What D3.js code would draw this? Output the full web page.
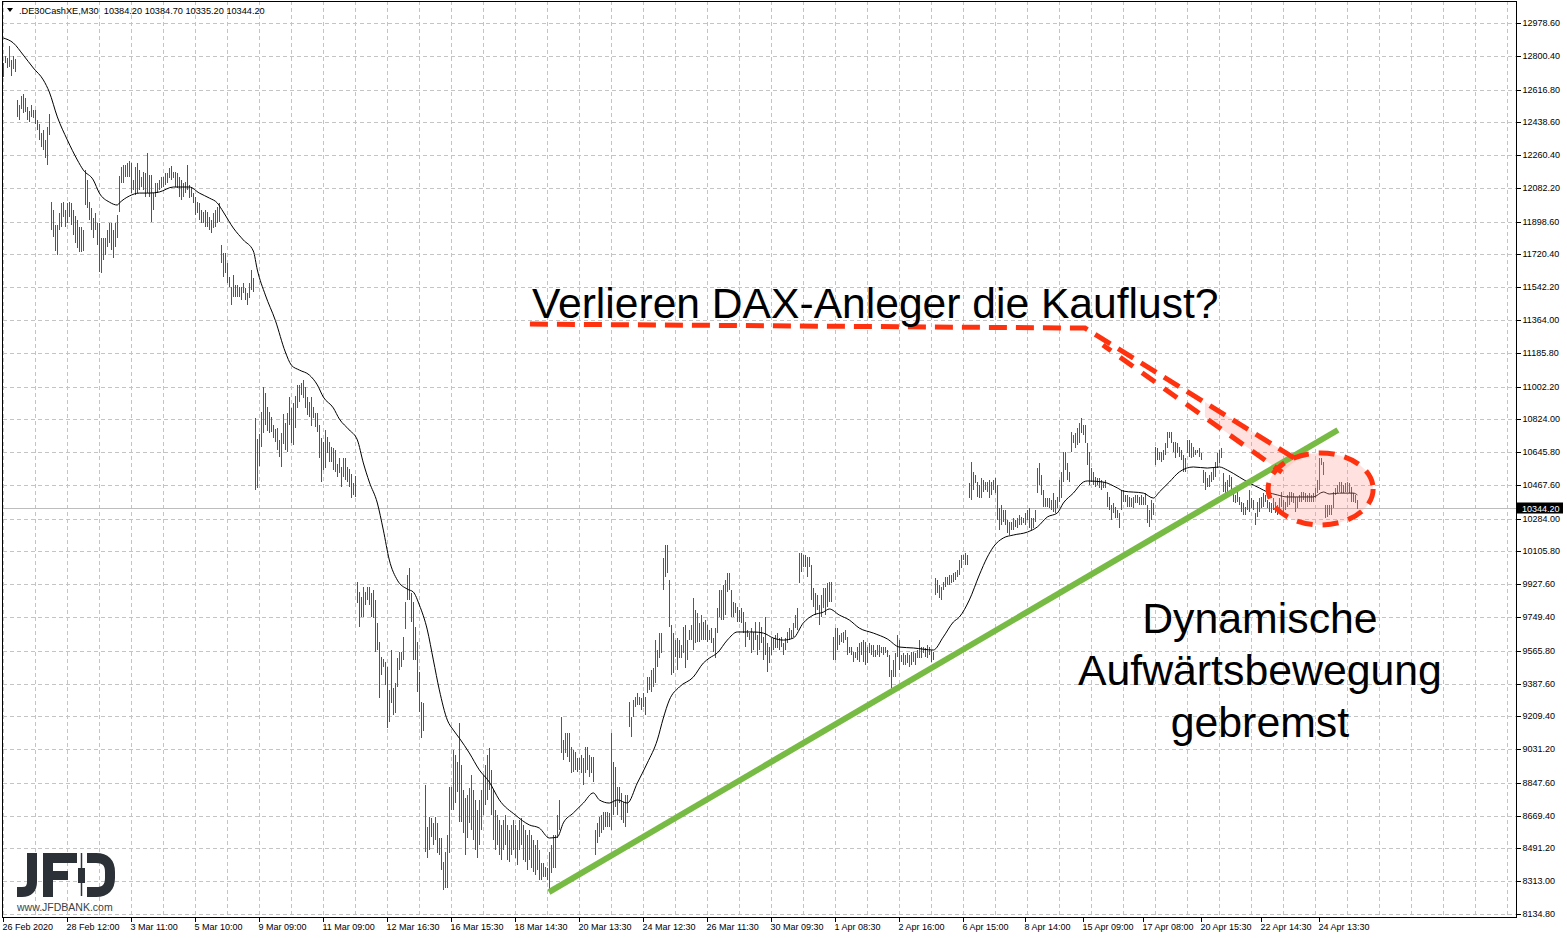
<!DOCTYPE html>
<html><head><meta charset="utf-8">
<script src="https://cdn.jsdelivr.net/npm/d3@7"></script>
<style>
body{margin:0;background:#fff;overflow:hidden}
svg{display:block}
</style></head>
<body>
<svg id="chart" width="1567" height="938"></svg>
<script>
// ---------- DATA (M30 bars) ----------
const highs = [
12761,12799,12788,12853,12777,12799,12783,12560,12533,12582,
12593,12571,12522,12500,12533,12506,12506,12451,12430,12381,
12397,12343,12413,12484,12005,11962,11880,11880,11946,12000,
12005,11962,12000,12005,12000,11962,11929,11908,11870,11870,
11853,12179,12125,12005,11973,11918,11946,11891,11891,11810,
11810,11810,11853,11891,11891,11853,11891,11935,12147,12196,
12207,12207,12218,12228,12218,12125,12196,12218,12179,12141,
12169,12163,12272,12152,12152,12054,12109,12109,12125,12141,
12141,12163,12163,12190,12201,12169,12169,12163,12141,12125,
12109,12114,12207,12098,12087,12054,12033,12005,12000,11962,
11951,11962,11951,11924,11908,11946,11962,11978,12000,11772,
11728,11728,11674,11598,11543,11609,11554,11554,11543,11543,
11565,11538,11511,11565,11636,11592,10831,10717,10744,10864,
11000,10967,10891,10864,10837,10793,10771,10777,10712,10750,
10853,10804,10859,10945,10886,10913,10951,11011,11011,11021,
11038,11000,10945,10918,10945,10891,10859,10859,10793,10722,
10701,10766,10728,10701,10674,10668,10657,10581,10614,10565,
10614,10614,10565,10554,10527,10478,10516,9940,9885,9858,
9912,9885,9912,9912,9880,9896,9842,9717,9613,9532,
9521,9505,9477,9353,9570,9363,9391,9526,9559,9559,
9641,9831,9978,10016,9880,9831,9695,9613,9450,9287,
9282,8836,8608,8662,8657,8630,8662,8630,8548,8548,
8417,8472,8564,8825,8825,9026,8999,8961,9173,8945,
8809,8765,8782,8820,8890,8809,8755,8700,8755,8809,
8890,8945,8999,9037,8918,8809,8700,8673,8646,8619,
8646,8673,8619,8591,8619,8646,8619,8591,8646,8657,
8619,8591,8564,8591,8564,8537,8510,8537,8483,8412,
8412,8390,8385,8472,8510,8564,8564,8673,8755,9206,
9081,9119,9119,9119,9042,9026,9015,8983,8983,8999,
8983,9042,9042,8999,8988,8988,8591,8630,8662,8673,
8689,8689,8689,8684,9119,8961,8934,8825,8825,8793,
8744,8782,8782,9287,9206,9298,9314,9336,9314,9309,
9336,9314,9423,9423,9461,9472,9624,9570,9662,9662,
10070,10141,10141,9951,9706,9662,9624,9635,9624,9597,
9695,9706,9624,9679,9706,9853,9787,9771,9717,9760,
9722,9733,9706,9679,9689,9635,9689,9798,9896,9896,
9923,9951,9989,9989,9896,9831,9825,9804,9787,9798,
9776,9722,9679,9662,9689,9668,9722,9651,9722,9695,
9641,9749,9608,9586,9635,9635,9651,9662,9635,9641,
9608,9635,9668,9689,9679,9717,9760,9798,10097,10097,
10086,10086,10075,10075,10032,9907,9880,9869,9815,9869,
9907,9907,9934,9940,9940,9641,9689,9689,9651,9662,
9668,9679,9641,9586,9586,9559,9559,9586,9608,9613,
9624,9613,9586,9608,9597,9597,9570,9597,9597,9586,
9586,9586,9570,9543,9461,9516,9554,9651,9624,9543,
9554,9543,9554,9543,9559,9559,9554,9570,9624,9586,
9586,9581,9597,9586,9570,9559,9961,9951,9923,9912,
9940,9967,9967,9978,9978,9989,9994,10005,10059,10086,
10086,10097,10086,10478,10592,10538,10521,10483,10467,10505,
10494,10483,10483,10494,10483,10494,10505,10467,10342,10358,
10331,10331,10277,10266,10266,10287,10277,10287,10304,10293,
10287,10315,10331,10342,10287,10287,10331,10559,10586,10521,
10440,10396,10396,10396,10385,10423,10385,10402,10494,10538,
10646,10646,10586,10538,10755,10739,10750,10777,10804,10831,
10793,10793,10695,10646,10559,10538,10510,10505,10505,10494,
10483,10494,10429,10402,10358,10369,10347,10331,10315,10440,
10440,10413,10413,10402,10396,10402,10413,10413,10402,10413,
10402,10423,10358,10331,10385,10369,10674,10668,10646,10646,
10657,10695,10755,10755,10755,10701,10701,10695,10674,10657,
10630,10614,10712,10712,10695,10674,10657,10657,10668,10641,
10549,10538,10505,10521,10538,10565,10592,10641,10657,10668,
10532,10483,10494,10521,10510,10429,10413,10429,10402,10374,
10369,10347,10385,10440,10396,10385,10315,10374,10396,10402,
10423,10413,10385,10374,10369,10396,10374,10358,10396,10429,
10385,10374,10413,10429,10429,10423,10402,10402,10413,10429,
10429,10423,10413,10423,10413,10423,10451,10494,10614,10614,
10592,10358,10358,10358,10358,10429,10451,10467,10483,10483,
10467,10478,10483,10478,10456,10423,10413,10385
];
const lows = [
12685,12761,12734,12739,12690,12728,12712,12468,12451,12511,
12489,12495,12451,12440,12468,12462,12430,12397,12343,12304,
12288,12245,12207,12370,11853,11815,11739,11717,11853,11870,
11924,11870,11891,11924,11880,11826,11783,11755,11734,11734,
11739,11989,11973,11908,11853,11810,11853,11772,11625,11620,
11690,11717,11761,11783,11745,11701,11761,11810,11951,12109,
12109,12141,12141,12141,12054,12071,12044,12054,12071,12087,
12071,12033,12054,12033,11897,11962,12033,12054,12071,12082,
12087,12098,12109,12136,12125,12136,12087,12082,12033,12016,
12033,12054,12071,12027,12033,12000,11935,11946,11908,11891,
11891,11870,11870,11853,11837,11864,11870,11891,11897,11674,
11598,11620,11565,11543,11446,11489,11489,11489,11489,11473,
11511,11473,11446,11483,11527,11516,10440,10451,10570,10674,
10750,10793,10761,10750,10755,10722,10701,10657,10619,10565,
10690,10657,10646,10793,10695,10684,10777,10886,10918,10956,
10940,10886,10848,10837,10788,10831,10782,10755,10614,10483,
10549,10559,10641,10592,10592,10549,10538,10510,10532,10456,
10510,10494,10483,10456,10396,10413,10402,9825,9695,9749,
9749,9815,9842,9815,9749,9744,9559,9570,9309,9434,
9477,9380,9146,9179,9282,9216,9228,9369,9461,9477,
9516,9684,9842,9842,9722,9516,9516,9342,9233,9091,
9129,8472,8439,8483,8553,8510,8537,8466,8455,8374,
8265,8276,8276,8466,8700,8700,8738,8798,8635,8635,
8575,8455,8548,8630,8591,8537,8483,8439,8510,8591,
8673,8727,8755,8809,8673,8537,8483,8510,8455,8428,
8483,8510,8428,8417,8455,8483,8439,8401,8483,8510,
8428,8417,8374,8428,8385,8363,8347,8374,8320,8320,
8336,8336,8320,8265,8358,8385,8385,8548,8591,9010,
8972,9010,8988,8961,8901,8907,8918,8907,8918,8901,
8836,8901,8918,8879,8901,8852,8455,8521,8553,8575,
8591,8608,8608,8608,8591,8673,8716,8673,8738,8646,
8630,8608,8684,9151,9097,9206,9260,9271,9271,9244,
9260,9216,9336,9353,9342,9369,9391,9477,9526,9554,
9896,9967,9989,9695,9434,9445,9532,9461,9526,9526,
9554,9472,9516,9624,9624,9570,9608,9613,9613,9624,
9624,9624,9613,9624,9608,9559,9526,9662,9749,9733,
9733,9760,9885,9896,9749,9749,9771,9722,9722,9717,
9662,9586,9641,9624,9554,9570,9624,9543,9570,9608,
9516,9543,9450,9499,9543,9570,9581,9581,9570,9586,
9543,9570,9608,9624,9635,9641,9689,9679,9934,9994,
10021,10021,9967,10021,9842,9804,9760,9787,9706,9749,
9798,9760,9804,9831,9831,9516,9516,9570,9597,9613,
9608,9624,9543,9554,9543,9505,9526,9516,9505,9543,
9505,9488,9499,9554,9543,9532,9532,9543,9532,9554,
9543,9554,9532,9423,9363,9423,9423,9532,9461,9505,
9488,9488,9499,9477,9488,9505,9488,9526,9526,9526,
9554,9532,9526,9543,9505,9516,9869,9880,9853,9842,
9896,9912,9923,9923,9934,9940,9951,9967,9978,10016,
10059,10032,10032,10396,10385,10440,10478,10402,10396,10396,
10429,10440,10429,10396,10413,10440,10423,10277,10222,10250,
10266,10250,10206,10195,10222,10222,10239,10233,10250,10250,
10260,10250,10277,10233,10222,10233,10266,10423,10467,10413,
10347,10347,10347,10342,10331,10320,10315,10342,10374,10396,
10483,10549,10494,10483,10646,10695,10668,10684,10695,10750,
10739,10695,10576,10467,10483,10467,10456,10467,10451,10440,
10451,10451,10347,10331,10277,10315,10287,10287,10233,10331,
10374,10374,10347,10347,10347,10342,10369,10369,10358,10358,
10358,10358,10260,10239,10277,10304,10576,10603,10603,10592,
10603,10630,10668,10722,10695,10646,10614,10641,10619,10603,
10538,10538,10641,10619,10614,10619,10630,10641,10619,10603,
10478,10440,10456,10456,10483,10494,10510,10559,10586,10614,
10429,10423,10429,10456,10423,10374,10369,10374,10358,10320,
10304,10304,10331,10320,10342,10331,10250,10293,10320,10342,
10347,10374,10342,10320,10315,10331,10315,10304,10331,10347,
10320,10331,10347,10358,10374,10369,10320,10342,10374,10374,
10385,10374,10374,10374,10374,10374,10396,10423,10440,10576,
10521,10287,10293,10304,10304,10342,10413,10423,10429,10423,
10423,10429,10429,10423,10374,10374,10369,10335
];
// G = bull bar (close > open), R = bear bar
const barDirs = (
"GRRGRGGRGG"+"RGRRGGRRRR"+"RRGRGRRGGG"+"GGGRRRRRRG"+"GRRRRRGRRG"+
"GGGGRRGGGG"+"GGGGRGGRRG"+"RRGRRGGGGG"+"GGGGRGRRRR"+"GGRRRRRGRR"+
"GRRRRGGGGG"+"RRRRGRRGRR"+"GRRGGRRGGG"+"GRRRRRRGRG"+"GRGRRRGGGR"+
"GRRRGRRRRR"+"RGRGRRGRGR"+"GRRRRGRRRR"+"GRGGRRRRRR"+"GRRGRRGGGG"+
"GGGRRRRRRR"+"RRGGRRGRRR"+"GGGGGGRRRR"+"RRGGGRRRGG"+"GGGRRRRGRR"+
"GGRRGRRRGG"+"RRRGRRRGRR"+"RRRGGGGGGG"+"RGRRGGRRGR"+"RGRGRRGGGG"+
"GRGRGRRGRR"+"RGGRGGGRGR"+"GRGRGGGGGG"+"GRGRRRGRGG"+"GRGGGGRGRG"+
"RGRGRRGGRG"+"RGGGRRGRRR"+"RRGRGRGRGR"+"RRRGGRRGRR"+"RGGGRGGGGR"+
"GRGRRRRRRG"+"GRGRGRGRRG"+"GGRRRRGRGG"+"RRGGRRRGRG"+"RGRRRGGGRG"+
"RGRGRGRGGR"+"GRGRRRGRGG"+"GRGRGRGGGG"+"GGRRGGRRRG"+"RGGRGGRRRG"+
"RRRGRGRGGG"+"GGRRRGGGGR"+"RGRRGRGGGG"+"GGRRGGGGGR"+"RRRRGGRRGR"+
"RGRRGGRRRR"+"GRRRGGGRRR"+"GGGGGGRRGG"+"RGGRRRRRRR"+"RGGRRGGRRR"+
"RRRGGGGGGG"+"RRGGRRRGRR"+"RRGGRGRGGR"+"GRRRRGRRGG"+"RGRGRGGGRR"+
"GRGRGRGGGR"+"RRRRGGGGGR"+"RRGRRRRR").split("");

// moving average (black line): bar slot and value
const maSlots = [0,5,10,15,20,23,27,32,37,40,45,48,53,57,58,63,68,73,78,85,90,93,98,103,107,110,115,120,125,127,131,136,141,144,148,153,157,160,165,168,173,177,180,183,187,190,193,197,202,205,208,212,215,218,222,225,228,233,238,243,248,256,263,268,273,277,280,285,290,295,298,303,307,312,317,322,327,330,333,338,345,350,353,357,362,367,375,380,385,390,395,400,405,410,413,418,423,428,435,442,448,455,465,470,475,478,483,488,492,495,500,505,512,517,522,527,530,535,540,542,550,557,560,570,575,578,583,588,595,602,608,612,618,623,628,632,637,642,648,655,660,663,668,675,677];
const maValues = [12897,12870,12804,12734,12669,12603,12468,12343,12234,12179,12125,12054,12005,11989,12000,12038,12054,12054,12060,12087,12087,12087,12054,12027,12000,11951,11864,11799,11739,11636,11500,11362,11190,11119,11092,11065,11011,10945,10886,10826,10766,10712,10587,10483,10369,10222,10059,9950,9901,9885,9815,9679,9516,9353,9189,9135,9091,9010,8918,8852,8755,8673,8619,8602,8548,8553,8630,8684,8738,8793,8755,8738,8755,8738,8847,8956,9081,9200,9298,9369,9423,9499,9526,9554,9624,9668,9668,9662,9635,9624,9635,9717,9760,9776,9793,9760,9733,9689,9662,9630,9586,9581,9570,9641,9722,9749,9842,9978,10075,10130,10179,10195,10211,10239,10293,10315,10369,10423,10483,10489,10483,10451,10434,10423,10396,10429,10483,10538,10565,10559,10565,10548,10510,10478,10451,10429,10413,10402,10402,10402,10429,10418,10423,10423,10413];

const priceTicks = [12978.6,12800.4,12616.8,12438.6,12260.4,12082.2,11898.6,11720.4,11542.2,11364.0,11185.8,11002.2,10824.0,10645.8,10467.6,10284.0,10105.8,9927.6,9749.4,9565.8,9387.6,9209.4,9031.2,8847.6,8669.4,8491.2,8313.0,8134.8];
const timeSlots = [0,32,64,96,128,160,192,224,256,288,320,352,384,416,448,480,511,540,570,599,629,658];
const timeLabels = ["26 Feb 2020","28 Feb 12:00","3 Mar 11:00","5 Mar 10:00","9 Mar 09:00","11 Mar 09:00","12 Mar 16:30","16 Mar 15:30","18 Mar 14:30","20 Mar 13:30","24 Mar 12:30","26 Mar 11:30","30 Mar 09:30","1 Apr 08:30","2 Apr 16:00","6 Apr 15:00","8 Apr 14:00","15 Apr 09:00","17 Apr 08:00","20 Apr 15:30","22 Apr 14:30","24 Apr 13:30"];
const lastPrice = 10344.2;
const headerText = ".DE30CashXE,M30  10384.20 10384.70 10335.20 10344.20";

// annotations, in (bar slot, price) units
const trendSlots = [272.8, 667.3];
const trendPrices = [8254, 10766];
const redSlots = [263.3, 540.8, 646.8];
const redPrices = [11342, 11320, 10605];
const lowerDashSlots = [549.8, 639.3];
const lowerDashPrices = [11228, 10537];
const bandSlots = [600.8, 646.8, 639.3, 600.8];
const bandPrices = [10918, 10605, 10537, 10836];
const ellipseSlots = [632.4, 684.9];
const ellipsePrices = [10250, 10641];
const title = "Verlieren DAX-Anleger die Kauflust?";
const titleAnchor = [264.3, 11374];
const noteLines = ["Dynamische","Aufwärtsbewegung","gebremst"];
const noteAnchor = [628.3, 9663];

// ---------- LAYOUT ----------
const W = 1567, H = 938;
const L = 3, R = 1516, T = 1, B = 917;
const svg = d3.select("#chart");
const FONT = "'Liberation Sans', Arial, Helvetica, sans-serif";

const x = d3.scaleLinear().domain([0, 756]).range([3.33, 1515.33]);
const y = d3.scaleLinear().domain([8134.8, 12978.6]).range([914, 23]);

svg.append("rect").attr("width", W).attr("height", H).attr("fill", "#fff");

svg.append("defs").append("clipPath").attr("id", "plot")
  .append("rect").attr("x", L).attr("y", T).attr("width", R - L).attr("height", B - T);

// grid
const grid = svg.append("g").attr("shape-rendering", "crispEdges")
  .attr("stroke", "#c4c4c4").attr("stroke-dasharray", "4,3").attr("stroke-width", 1);
grid.selectAll("line.h").data(priceTicks).join("line").attr("class", "h")
  .attr("x1", L).attr("x2", R)
  .attr("y1", d => Math.round(y(d)) + 0.5).attr("y2", d => Math.round(y(d)) + 0.5);
grid.selectAll("line.v").data(d3.range(0, 753, 16)).join("line").attr("class", "v")
  .attr("y1", T).attr("y2", B)
  .attr("x1", d => Math.round(x(d)) + 0.5).attr("x2", d => Math.round(x(d)) + 0.5);

// last price line
svg.append("line").attr("x1", L).attr("x2", R)
  .attr("y1", Math.round(y(lastPrice)) + 0.5).attr("y2", Math.round(y(lastPrice)) + 0.5)
  .attr("stroke", "#bdbdbd").attr("shape-rendering", "crispEdges");

// bars
const plot = svg.append("g").attr("clip-path", "url(#plot)");
plot.append("g").attr("shape-rendering", "crispEdges")
  .selectAll("line").data(highs).join("line")
  .attr("x1", (d, i) => Math.round(x(i)) + 0.5)
  .attr("x2", (d, i) => Math.round(x(i)) + 0.5)
  .attr("y1", d => Math.round(y(d)))
  .attr("y2", (d, i) => Math.max(Math.round(y(lows[i])), Math.round(y(d)) + 1))
  .attr("stroke", (d, i) => barDirs[i] === "G" ? "#0f8a12" : "#e3141a")
  .attr("stroke-width", 1);

// moving average
plot.append("path")
  .datum(maSlots.map((s, i) => [s, maValues[i]]))
  .attr("d", d3.line().x(d => x(d[0])).y(d => y(d[1])).curve(d3.curveMonotoneX))
  .attr("fill", "none").attr("stroke", "#000").attr("stroke-width", 1);

// ---------- annotations ----------
const ann = svg.append("g");
// pink band between the two descending dashed lines
ann.append("path")
  .attr("d", d3.line()(bandSlots.map((s, i) => [x(s), y(bandPrices[i])])) + "Z")
  .attr("fill", "rgba(255,120,110,0.22)").attr("stroke", "none");
// ellipse fill
const ex = (x(ellipseSlots[0]) + x(ellipseSlots[1])) / 2;
const ey = (y(ellipsePrices[0]) + y(ellipsePrices[1])) / 2;
const erx = (x(ellipseSlots[1]) - x(ellipseSlots[0])) / 2;
const ery = (y(ellipsePrices[0]) - y(ellipsePrices[1])) / 2;
ann.append("ellipse").attr("cx", ex).attr("cy", ey).attr("rx", erx).attr("ry", ery)
  .attr("fill", "rgba(255,150,140,0.28)").attr("stroke", "none");
// green trend line
ann.append("line")
  .attr("x1", x(trendSlots[0])).attr("y1", y(trendPrices[0]))
  .attr("x2", x(trendSlots[1])).attr("y2", y(trendPrices[1]))
  .attr("stroke", "#78bb44").attr("stroke-width", 6);
// red dashed lines
ann.append("path")
  .attr("d", d3.line()(redSlots.map((s, i) => [x(s), y(redPrices[i])])))
  .attr("fill", "none").attr("stroke", "#ff3210").attr("stroke-width", 5)
  .attr("stroke-dasharray", "18,9");
ann.append("path")
  .attr("d", d3.line()(lowerDashSlots.map((s, i) => [x(s), y(lowerDashPrices[i])])))
  .attr("fill", "none").attr("stroke", "#ff3210").attr("stroke-width", 5)
  .attr("stroke-dasharray", "16,11").attr("stroke-dashoffset", 6);
// ellipse dashed outline
ann.append("ellipse").attr("cx", ex).attr("cy", ey).attr("rx", erx).attr("ry", ery)
  .attr("fill", "none").attr("stroke", "#ff3210").attr("stroke-width", 5)
  .attr("stroke-dasharray", "16,10");

// titles
ann.append("text").attr("x", x(titleAnchor[0])).attr("y", y(titleAnchor[1]))
  .attr("font-family", FONT).attr("font-size", 42.6).attr("fill", "#000").text(title);
ann.selectAll("text.note").data(noteLines).join("text").attr("class", "note")
  .attr("x", x(noteAnchor[0])).attr("y", (d, i) => y(noteAnchor[1]) + i * 52)
  .attr("text-anchor", "middle").attr("font-family", FONT).attr("font-size", 42.8)
  .attr("fill", "#000").text(d => d);

// ---------- frame & axes ----------
svg.append("rect").attr("x", L - 0.5).attr("y", T + 0.5).attr("width", R - L + 0.5).attr("height", B - T)
  .attr("fill", "none").attr("stroke", "#000").attr("shape-rendering", "crispEdges");

const yAxis = svg.append("g").attr("transform", `translate(${R + 0.5},0)`)
  .call(d3.axisRight(y).tickValues(priceTicks).tickFormat(d3.format(".2f")).tickSize(4).tickSizeOuter(0));
yAxis.select(".domain").remove();
yAxis.selectAll("line").attr("stroke", "#000").attr("shape-rendering", "crispEdges");
yAxis.selectAll("text").attr("x", 6).attr("font-family", FONT).attr("font-size", 9).attr("fill", "#000");
yAxis.selectAll(".tick").attr("transform", d => `translate(0,${Math.round(y(d)) + 0.5})`);

const xAxis = svg.append("g").attr("transform", `translate(0,${B + 0.5})`)
  .call(d3.axisBottom(x).tickValues(timeSlots).tickFormat((d, i) => timeLabels[i]).tickSize(4).tickSizeOuter(0));
xAxis.select(".domain").remove();
xAxis.selectAll("line").attr("stroke", "#000").attr("shape-rendering", "crispEdges");
xAxis.selectAll(".tick").attr("transform", d => `translate(${Math.round(x(d)) + 0.5},0)`);
xAxis.selectAll("text").attr("text-anchor", "start").attr("x", -1).attr("y", 12).attr("dy", 0)
  .attr("font-family", FONT).attr("font-size", 9).attr("fill", "#000");

// last price tag
const tagY = Math.round(y(lastPrice)) + 0.5;
svg.append("rect").attr("x", R + 1).attr("y", tagY - 6).attr("width", 46).attr("height", 11).attr("fill", "#000");
svg.append("text").attr("x", R + 6).attr("y", tagY + 3.2).attr("font-family", FONT).attr("font-size", 9)
  .attr("fill", "#fff").text(d3.format(".2f")(lastPrice));

// header
svg.append("path").attr("d", "M7,8 L13,8 L10,12 Z").attr("fill", "#000");
svg.append("text").attr("x", 19).attr("y", 13.5).attr("font-family", FONT).attr("font-size", 9.2)
  .attr("fill", "#000").attr("xml:space", "preserve").style("white-space", "pre").text(headerText);

// JFD logo
const logo = svg.append("g").attr("fill", "none").attr("stroke", "#2c3137");
logo.append("path").attr("d", "M32,853 V882 Q32,892 22,892 H17").attr("stroke-width", 10);
logo.append("rect").attr("x", 43).attr("y", 853).attr("width", 10).attr("height", 44).attr("fill", "#2c3137").attr("stroke", "none");
logo.append("rect").attr("x", 43).attr("y", 853).attr("width", 34).attr("height", 10).attr("fill", "#2c3137").attr("stroke", "none");
logo.append("rect").attr("x", 43).attr("y", 871).attr("width", 25).attr("height", 9).attr("fill", "#2c3137").attr("stroke", "none");
logo.append("line").attr("x1", 81.5).attr("x2", 81.5).attr("y1", 853).attr("y2", 896).attr("stroke-width", 1.5);
logo.append("rect").attr("x", 78).attr("y", 868).attr("width", 7).attr("height", 15).attr("fill", "#2c3137").attr("stroke", "none");
logo.append("path").attr("d", "M87,858 H96 Q110,858 110,872 V878 Q110,892 96,892 H87").attr("stroke-width", 10);
svg.append("text").attr("x", 17).attr("y", 911).attr("font-family", FONT).attr("font-size", 10.5)
  .attr("fill", "#3a3f45").text("www.JFDBANK.com");
</script>
</body></html>
